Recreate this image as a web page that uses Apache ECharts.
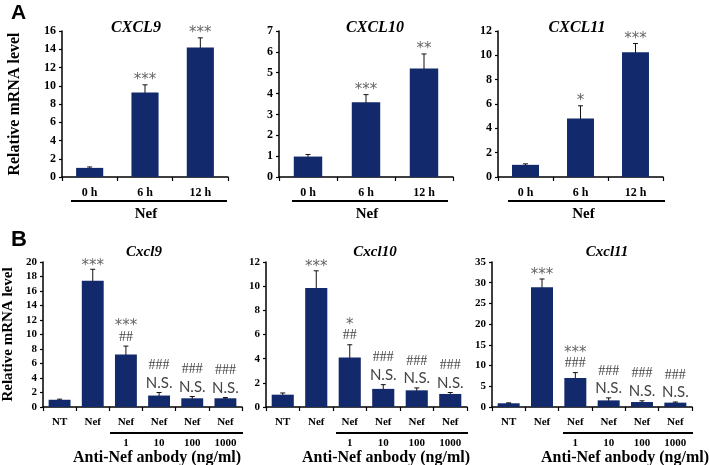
<!DOCTYPE html>
<html>
<head>
<meta charset="utf-8">
<script src="https://cdn.jsdelivr.net/npm/echarts@6/dist/echarts.min.js"></script>
<style>
html,body{margin:0;padding:0;background:#fff;}
#chart{width:709px;height:465px;}
</style>
</head>
<body>
<div id="chart"></div>
<script>
// ---------- DATA ----------
const catsA = ['0 h', '6 h', '12 h'];
const catsB = ['NT', 'Nef', 'Nef', 'Nef', 'Nef', 'Nef'];
const dosesB = ['', '', '1', '10', '100', '1000'];

const titlesA = ['CXCL9', 'CXCL10', 'CXCL11'];
const titlesB = ['Cxcl9', 'Cxcl10', 'Cxcl11'];

const cxcl9A  = [1.0, 9.25, 14.2];
const cxcl9AErr = [0.1, 0.85, 1.05];
const cxcl10A = [0.98, 3.58, 5.2];
const cxcl10AErr = [0.1, 0.37, 0.7];
const cxcl11A = [1.0, 4.8, 10.25];
const cxcl11AErr = [0.08, 1.05, 0.72];

const cxcl9B  = [1.0, 17.4, 7.25, 1.58, 1.2, 1.2];
const cxcl9BErr = [0.08, 1.6, 1.15, 0.42, 0.25, 0.1];
const cxcl10B = [1.02, 9.85, 4.1, 1.5, 1.38, 1.08];
const cxcl10BErr = [0.14, 1.42, 1.05, 0.35, 0.2, 0.12];
const cxcl11B = [0.9, 28.9, 7.0, 1.6, 1.2, 1.05];
const cxcl11BErr = [0.1, 2.0, 1.3, 0.6, 0.3, 0.15];

const sigA9  = [[], ['***'], ['***']];
const sigA10 = [[], ['***'], ['**']];
const sigA11 = [[], ['*'], ['***']];
const sigB9  = [[], ['***'], ['***', '##'], ['###', 'N.S.'], ['###', 'N.S.'], ['###', 'N.S.']];
const sigB10 = [[], ['***'], ['*', '##'], ['###', 'N.S.'], ['###', 'N.S.'], ['###', 'N.S.']];
const sigB11 = [[], ['***'], ['***', '###'], ['###', 'N.S.'], ['###', 'N.S.'], ['###', 'N.S.']];

const yMax = [16, 7, 12, 20, 12, 35];
const yStep = [2, 1, 2, 2, 2, 5];

// ---------- LAYOUT ----------
const SERIF = '"Liberation Serif", "Times New Roman", serif';
const SANS = '"Liberation Sans", Arial, sans-serif';
const BAR = '#12296b';

const grids = [
  {left: 62, top: 31, width: 166, height: 146},
  {left: 279, top: 31, width: 174, height: 146},
  {left: 498, top: 31, width: 165, height: 146},
  {left: 42, top: 262, width: 200, height: 145},
  {left: 266, top: 262, width: 201, height: 145},
  {left: 492, top: 262, width: 200, height: 145}
];

const panels = [
  {cats: catsA, vals: cxcl9A, errs: cxcl9AErr, sig: sigA9},
  {cats: catsA, vals: cxcl10A, errs: cxcl10AErr, sig: sigA10},
  {cats: catsA, vals: cxcl11A, errs: cxcl11AErr, sig: sigA11},
  {cats: catsB, vals: cxcl9B, errs: cxcl9BErr, sig: sigB9},
  {cats: catsB, vals: cxcl10B, errs: cxcl10BErr, sig: sigB10},
  {cats: catsB, vals: cxcl11B, errs: cxcl11BErr, sig: sigB11}
];

const annStyle = {
  '*':  {font: '15px "DejaVu Sans", sans-serif', h: 9, fill: '#666', off: -4},
  '#':  {font: '14px ' + SERIF, h: 13, fill: '#444', off: 0},
  'N':  {font: '15px Lato, "Open Sans", sans-serif', h: 16, fill: '#444', off: 0}
};

const xAxis = [], yAxis = [], series = [];
panels.forEach((p, gi) => {
  const isB = gi >= 3;
  xAxis.push({
    type: 'category', gridIndex: gi, data: p.cats,
    axisLine: {lineStyle: {color: '#000', width: 1.5}},
    axisTick: {show: true, length: 4, lineStyle: {color: '#000', width: 1.2}},
    axisLabel: isB ? {
      margin: 8, interval: 0,
      formatter: (v, i) => '{n|' + v + '}\n{d|' + (dosesB[i] || ' ') + '}',
      rich: {
        n: {fontFamily: SERIF, fontWeight: 'bold', fontSize: 11, color: '#000', lineHeight: 14},
        d: {fontFamily: SERIF, fontWeight: 'bold', fontSize: 11, color: '#000', lineHeight: 28}
      }
    } : {margin: 10, interval: 0, fontFamily: SERIF, fontWeight: 'bold', fontSize: 12, color: '#000'}
  });
  const ya = {
    type: 'value', gridIndex: gi, min: 0, max: yMax[gi], interval: yStep[gi],
    axisLine: {show: true, lineStyle: {color: '#000', width: 1.5}},
    axisTick: {show: true, length: 3, lineStyle: {color: '#000', width: 1.2}},
    splitLine: {show: false},
    axisLabel: {margin: 6, fontFamily: SERIF, fontWeight: 'bold', fontSize: isB ? 11 : 12, color: '#000'}
  };
  if (gi === 0 || gi === 3) {
    ya.name = 'Relative mRNA level';
    ya.nameLocation = 'middle';
    ya.nameGap = gi === 0 ? 39 : 27;
    ya.nameTextStyle = {fontFamily: SERIF, fontWeight: 'bold', fontSize: gi === 0 ? 16 : 15, color: '#000'};
  }
  yAxis.push(ya);
  series.push({
    type: 'bar', xAxisIndex: gi, yAxisIndex: gi, data: p.vals,
    barWidth: isB ? '66%' : '49%',
    itemStyle: {color: BAR}, silent: true, animation: false
  });
  series.push({
    type: 'custom', xAxisIndex: gi, yAxisIndex: gi, clip: false, animation: false, silent: true,
    data: p.vals.map((v, i) => [i, v, p.errs[i]]),
    renderItem: function (params, api) {
      const i = api.value(0), v = api.value(1), e = api.value(2);
      const top = api.coord([i, v + e]);
      const bot = api.coord([i, v - e]);
      const cw = 2.5;
      const ls = {stroke: '#111', lineWidth: 1};
      const children = [
        {type: 'line', shape: {x1: top[0], y1: top[1], x2: bot[0], y2: bot[1]}, style: ls},
        {type: 'line', shape: {x1: top[0] - cw, y1: top[1], x2: top[0] + cw, y2: top[1]}, style: ls},
        {type: 'line', shape: {x1: bot[0] - cw, y1: bot[1], x2: bot[0] + cw, y2: bot[1]}, style: ls}
      ];
      const lines = p.sig[i] || [];
      let y = top[1] - (isB ? 2 : 3);
      for (let k = lines.length - 1; k >= 0; k--) {
        const t = lines[k];
        const st = annStyle[t[0]];
        const isLast = (k === lines.length - 1);
        const yy = y + (t[0] === '*' && isLast ? 6 : (t[0] === '*' ? 5 : 0));
        children.push({type: 'text', style: {text: t, x: top[0], y: yy, align: 'center', verticalAlign: 'bottom', font: st.font, fill: st.fill}});
        y -= st.h + 2;
      }
      return {type: 'group', children: children};
    }
  });
});

const titles = [];
const titleX = [131, 370, 572, 139, 370, 602];
const titleY = [15, 15, 15, 240, 240, 240];
titlesA.concat(titlesB).forEach((t, i) => {
  titles.push({
    text: t, left: titleX[i], top: titleY[i], textAlign: 'center',
    textStyle: {fontFamily: SERIF, fontStyle: 'italic', fontWeight: 'bold', fontSize: i < 3 ? 16 : 15, color: '#000'}
  });
});

const graphic = [
  {type: 'text', left: 11, top: 3, style: {text: 'A', font: 'bold 21px ' + SANS, fill: '#000'}},
  {type: 'text', left: 11, top: 229, style: {text: 'B', font: 'bold 22px ' + SANS, fill: '#000'}}
];
// "Nef" brackets under panel A
[[71, 227], [292, 448], [508, 665]].forEach(r => {
  graphic.push({type: 'line', shape: {x1: r[0], y1: 201, x2: r[1], y2: 201}, style: {stroke: '#000', lineWidth: 2}});
  graphic.push({type: 'text', x: (r[0] + r[1]) / 2 - 3, y: 214, style: {text: 'Nef', align: 'center', verticalAlign: 'middle', font: 'bold 15px ' + SERIF, fill: '#000'}});
});
// antibody brackets under panel B
[[110, 243, 157], [336, 468, 386], [563, 693, 625]].forEach(r => {
  graphic.push({type: 'line', shape: {x1: r[0], y1: 433, x2: r[1], y2: 433}, style: {stroke: '#000', lineWidth: 2}});
  graphic.push({type: 'text', x: r[2], y: 458, style: {text: 'Anti-Nef anbody (ng/ml)', align: 'center', verticalAlign: 'middle', font: 'bold 16px ' + SERIF, fill: '#000'}});
});

const chart = echarts.init(document.getElementById('chart'), null, {renderer: 'canvas'});
chart.setOption({
  animation: false,
  backgroundColor: '#fff',
  title: titles,
  grid: grids,
  xAxis: xAxis,
  yAxis: yAxis,
  series: series,
  graphic: graphic
});
</script>
</body>
</html>
